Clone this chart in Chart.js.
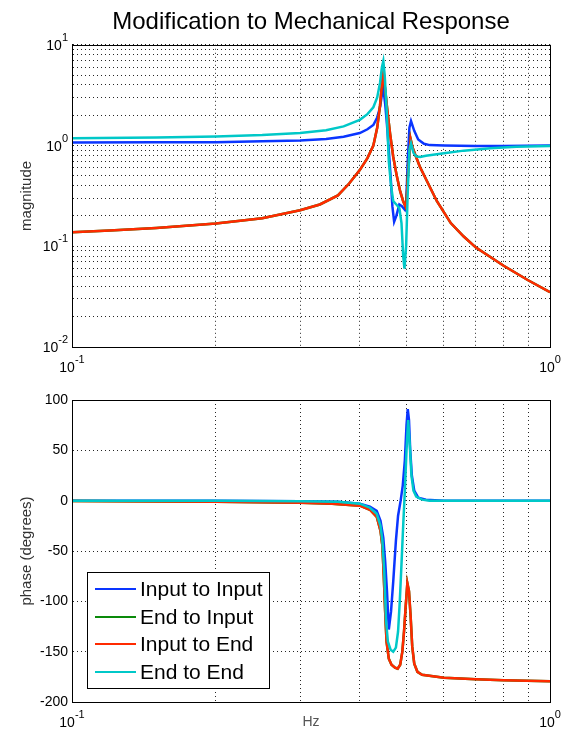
<!DOCTYPE html>
<html>
<head>
<meta charset="utf-8">
<script src="https://cdn.jsdelivr.net/npm/chart.js@4.4.1/dist/chart.umd.min.js"></script>
<style>
    html, body { margin: 0; padding: 0; background: #fff; }
    #wrap { position: relative; width: 571px; height: 739px; }
    canvas { position: absolute; left: 0; }
</style>
</head>
<body>
<div id="wrap">
    <canvas id="magnitude-canvas" width="571" height="385" style="top:0"></canvas>
    <canvas id="phase-canvas" width="571" height="354" style="top:385px"></canvas>
</div>
<script>
// magnitude (Hz / ratio)
const magFreqInputToInput = [0.1, 0.15, 0.2, 0.25, 0.3, 0.34, 0.37, 0.4, 0.415, 0.427, 0.435, 0.441, 0.445, 0.448, 0.452, 0.456, 0.46, 0.464, 0.468, 0.472, 0.477, 0.484, 0.49, 0.497, 0.5, 0.504, 0.508, 0.512, 0.52, 0.53, 0.545, 0.56, 0.6, 0.7, 0.8, 1.0];
const magInputToInput = [1.07, 1.075, 1.08, 1.1, 1.12, 1.16, 1.22, 1.33, 1.45, 1.6, 1.9, 2.4, 3.2, 3.7, 2.6, 1.6, 0.9, 0.5, 0.25, 0.175, 0.2, 0.26, 0.25, 0.23, 0.26, 0.7, 1.5, 1.75, 1.4, 1.15, 1.04, 1.01, 1.0, 0.99, 0.99, 1.0];

// input->end and end->input are reciprocal, same curve
const magFreqInputToEnd = [0.1, 0.12, 0.15, 0.2, 0.25, 0.3, 0.33, 0.36, 0.38, 0.4, 0.415, 0.427, 0.435, 0.441, 0.445, 0.448, 0.452, 0.457, 0.463, 0.47, 0.478, 0.486, 0.493, 0.5, 0.505, 0.511, 0.516, 0.522, 0.534, 0.552, 0.58, 0.62, 0.66, 0.7, 0.8, 0.9, 1.0];
const magInputToEnd = [0.138, 0.143, 0.152, 0.168, 0.19, 0.228, 0.26, 0.32, 0.42, 0.57, 0.75, 1.0, 1.5, 2.5, 4.0, 5.1, 3.6, 2.2, 1.3, 0.77, 0.5, 0.35, 0.28, 0.24, 0.55, 1.16, 0.95, 0.82, 0.62, 0.45, 0.28, 0.17, 0.125, 0.097, 0.064, 0.046, 0.035];
const magFreqEndToInput = magFreqInputToEnd;
const magEndToInput = magInputToEnd;

const magFreqEndToEnd = [0.1, 0.15, 0.2, 0.25, 0.3, 0.34, 0.37, 0.4, 0.415, 0.427, 0.435, 0.441, 0.445, 0.448, 0.451, 0.455, 0.46, 0.465, 0.47, 0.477, 0.484, 0.489, 0.493, 0.496, 0.5, 0.504, 0.508, 0.512, 0.518, 0.525, 0.535, 0.55, 0.6, 0.66, 0.75, 0.85, 1.0];
const magEndToEnd = [1.18, 1.2, 1.23, 1.27, 1.33, 1.42, 1.55, 1.8, 2.05, 2.4, 3.0, 4.2, 6.0, 6.9, 5.0, 2.4, 0.7, 0.4, 0.28, 0.26, 0.24, 0.17, 0.08, 0.06, 0.1, 0.35, 0.9, 1.05, 0.85, 0.78, 0.77, 0.79, 0.84, 0.89, 0.94, 0.97, 0.99];

// phase (degrees)
const phaseFreqInputToInput = [0.1, 0.2, 0.3, 0.36, 0.4, 0.42, 0.434, 0.442, 0.448, 0.452, 0.456, 0.46, 0.465, 0.47, 0.476, 0.481, 0.487, 0.492, 0.497, 0.501, 0.504, 0.507, 0.51, 0.514, 0.52, 0.53, 0.55, 0.6, 1.0];
const phaseInputToInput = [0, 0, -0.5, -1, -3, -6, -10, -20, -37, -60, -90, -128, -110, -80, -40, -15, 0, 15, 40, 75, 91, 80, 50, 25, 10, 3, 1, 0, 0];

const phaseFreqInputToEnd = [0.1, 0.16, 0.2, 0.3, 0.35, 0.4, 0.42, 0.434, 0.442, 0.446, 0.449, 0.452, 0.455, 0.46, 0.466, 0.474, 0.48, 0.486, 0.491, 0.495, 0.499, 0.503, 0.507, 0.511, 0.515, 0.52, 0.528, 0.54, 0.6, 0.7, 0.8, 1.0];
const phaseInputToEnd = [-0.3, -0.8, -1, -2, -3, -5, -9, -16, -30, -45, -75, -110, -140, -157, -163, -166, -167, -163, -150, -130, -105, -82, -90, -115, -145, -162, -170, -173, -176, -177.5, -178.5, -179.5];
const phaseFreqEndToInput = phaseFreqInputToEnd;
const phaseEndToInput = phaseInputToEnd;

const phaseFreqEndToEnd = [0.1, 0.2, 0.3, 0.36, 0.4, 0.42, 0.434, 0.442, 0.446, 0.45, 0.454, 0.458, 0.464, 0.47, 0.476, 0.481, 0.485, 0.489, 0.493, 0.497, 0.501, 0.505, 0.509, 0.513, 0.518, 0.525, 0.54, 0.56, 1.0];
const phaseEndToEnd = [0, 0, -0.5, -1, -3, -7, -13, -25, -40, -70, -120, -140, -148, -150, -146, -130, -100, -63, -25, 10, 50, 80, 55, 25, 10, 4, 1, 0, 0];

const seriesLabels = ['Input to Input', 'End to Input', 'Input to End', 'End to End'];
const seriesColors = ['#0a35ff', '#0a8a0a', '#ff2a00', '#00c8c8'];
const phaseTicks = [-200, -150, -100, -50, 0, 50, 100];

const FONT = '"Liberation Sans", Arial, sans-serif';

function toPoints(freqs, values) {
    return freqs.map((f, i) => ({ x: f, y: values[i] }));
}

function logGrid(minExp, maxExp) {
    const values = [];
    for (let e = minExp; e < maxExp; e++) {
        for (let m = 1; m < 10; m++) values.push(m * Math.pow(10, e));
    }
    values.push(Math.pow(10, maxExp));
    return values;
}

function decadeExp(value) {
    const e = Math.log10(value);
    return Math.abs(e - Math.round(e)) < 1e-6 ? Math.round(e) : null;
}

function makeDatasets(pairs) {
    // drawn order: cyan on top, then red, green, blue
    const order = [4, 3, 2, 1];
    return pairs.map(([freqs, values], i) => ({
        label: seriesLabels[i],
        data: toPoints(freqs, values),
        borderColor: seriesColors[i],
        backgroundColor: seriesColors[i],
        borderWidth: 2.5,
        pointRadius: 0,
        tension: 0,
        order: order[i],
    }));
}

const framePlugin = {
    id: 'frame',
    afterDraw(chart) {
        const { ctx, chartArea: a } = chart;
        ctx.save();
        ctx.setLineDash([]);
        ctx.strokeStyle = '#000';
        ctx.lineWidth = 1;
        ctx.strokeRect(Math.round(a.left) + 0.5, Math.round(a.top) + 0.5, Math.round(a.right - a.left), Math.round(a.bottom - a.top));
        ctx.restore();
    }
};

// 10 with a raised exponent at every decade of the log axes
const powerLabelPlugin = {
    id: 'powerLabels',
    afterDraw(chart) {
        const { ctx, chartArea: a } = chart;
        ctx.save();
        ctx.fillStyle = '#000';
        ctx.textBaseline = 'alphabetic';
        Object.values(chart.scales).forEach((scale) => {
            if (scale.type !== 'logarithmic') return;
            scale.ticks.forEach((tick) => {
                const e = decadeExp(tick.value);
                if (e === null) return;
                const base = '10', sup = String(e);
                ctx.font = '14px ' + FONT;
                const w1 = ctx.measureText(base).width;
                ctx.font = '11px ' + FONT;
                const w2 = ctx.measureText(sup).width;
                const p = scale.getPixelForValue(tick.value);
                let x, y;
                if (scale.isHorizontal()) {
                    x = p - (w1 + w2) / 2;
                    y = a.bottom + 25;
                } else {
                    x = a.left - 4 - w1 - w2;
                    y = p + 5;
                }
                ctx.font = '14px ' + FONT;
                ctx.fillText(base, x, y);
                ctx.font = '11px ' + FONT;
                ctx.fillText(sup, x + w1, y - 9);
            });
        });
        ctx.restore();
    }
};

const boxLegendPlugin = {
    id: 'boxLegend',
    afterDraw(chart) {
        const { ctx, chartArea: a } = chart;
        const x = Math.round(a.left) + 15, y = Math.round(a.bottom) - 130, w = 182, h = 116;
        ctx.save();
        ctx.setLineDash([]);
        ctx.fillStyle = '#fff';
        ctx.fillRect(x, y, w, h);
        ctx.strokeStyle = '#000';
        ctx.lineWidth = 1;
        ctx.strokeRect(x + 0.5, y + 0.5, w, h);
        ctx.font = '21px ' + FONT;
        ctx.textBaseline = 'middle';
        chart.data.datasets.forEach((ds, i) => {
            const rowY = Math.round(y + 17 + i * 27.6);
            ctx.strokeStyle = ds.borderColor;
            ctx.lineWidth = 2;
            ctx.beginPath();
            ctx.moveTo(x + 8, rowY);
            ctx.lineTo(x + 49, rowY);
            ctx.stroke();
            ctx.fillStyle = '#000';
            ctx.fillText(ds.label, x + 53, rowY + 1);
        });
        ctx.restore();
    }
};

function gridOpts() {
    return { color: 'rgba(0,0,0,0.85)', lineWidth: 1, drawTicks: false, borderDash: [1, 3] };
}
function borderOpts() {
    return { color: '#000', width: 1, dash: [1, 3] };
}

function freqAxis(height, showTitle) {
    const grid = logGrid(-1, 0);
    return {
        type: 'logarithmic',
        min: 0.1,
        max: 1,
        afterBuildTicks: (scale) => { scale.ticks = grid.map(v => ({ value: v })); },
        afterFit: (scale) => { scale.height = height; },
        grid: gridOpts(),
        border: borderOpts(),
        ticks: {
            autoSkip: false,
            maxRotation: 0,
            callback: () => '',
        },
        title: {
            display: showTitle,
            text: 'Hz',
            color: '#555',
            font: { family: FONT, size: 14 },
            padding: { top: 0, bottom: 8 },
        },
    };
}

const magnitudeChart = new Chart(document.getElementById('magnitude-canvas'), {
    type: 'line',
    data: {
        datasets: makeDatasets([
            [magFreqInputToInput, magInputToInput],
            [magFreqEndToInput, magEndToInput],
            [magFreqInputToEnd, magInputToEnd],
            [magFreqEndToEnd, magEndToEnd],
        ])
    },
    options: {
        responsive: false,
        animation: false,
        layout: { padding: { left: 0, right: 21, top: 0, bottom: 0 } },
        scales: {
            x: freqAxis(38, false),
            y: {
                type: 'logarithmic',
                min: 0.01,
                max: 10,
                afterBuildTicks: (scale) => { scale.ticks = logGrid(-2, 1).map(v => ({ value: v })); },
                afterFit: (scale) => { scale.width = 72; },
                grid: gridOpts(),
                border: borderOpts(),
                ticks: {
                    autoSkip: false,
                    callback: () => '',
                },
                title: {
                    display: true,
                    text: 'magnitude',
                    color: '#333',
                    font: { family: FONT, size: 15 },
                    padding: { top: 18, bottom: 0 },
                },
            },
        },
        plugins: {
            legend: { display: false },
            tooltip: { enabled: false },
            title: {
                display: true,
                text: 'Modification to Mechanical Response',
                fullSize: false,
                color: '#000',
                font: { family: FONT, size: 24, weight: 'normal' },
                padding: { top: 8, bottom: 8 },
            },
        },
    },
    plugins: [framePlugin, powerLabelPlugin],
});

const phaseChart = new Chart(document.getElementById('phase-canvas'), {
    type: 'line',
    data: {
        datasets: makeDatasets([
            [phaseFreqInputToInput, phaseInputToInput],
            [phaseFreqEndToInput, phaseEndToInput],
            [phaseFreqInputToEnd, phaseInputToEnd],
            [phaseFreqEndToEnd, phaseEndToEnd],
        ])
    },
    options: {
        responsive: false,
        animation: false,
        layout: { padding: { left: 0, right: 21, top: 15, bottom: 0 } },
        scales: {
            x: freqAxis(37, true),
            y: {
                type: 'linear',
                min: -200,
                max: 100,
                afterBuildTicks: (scale) => { scale.ticks = phaseTicks.map(v => ({ value: v })); },
                afterFit: (scale) => { scale.width = 72; },
                grid: gridOpts(),
                border: borderOpts(),
                ticks: {
                    autoSkip: false,
                    padding: 4,
                    color: '#000',
                    font: { family: FONT, size: 14 },
                },
                title: {
                    display: true,
                    text: 'phase (degrees)',
                    color: '#333',
                    font: { family: FONT, size: 15 },
                    padding: { top: 18, bottom: 0 },
                },
            },
        },
        plugins: {
            legend: { display: false },
            tooltip: { enabled: false },
        },
    },
    plugins: [framePlugin, powerLabelPlugin, boxLegendPlugin],
});
</script>
</body>
</html>
